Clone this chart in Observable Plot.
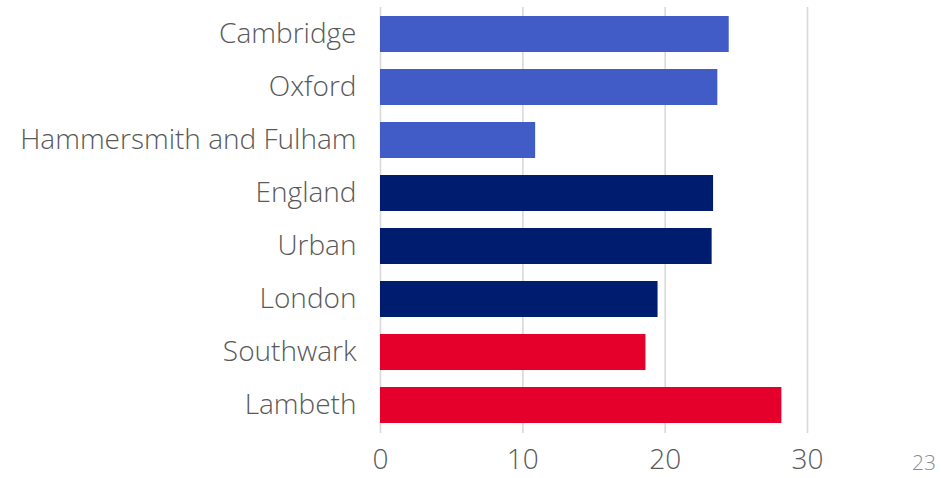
<!DOCTYPE html>
<html>
<head>
<meta charset="utf-8">
<script src="https://cdn.jsdelivr.net/npm/d3@7"></script>
<script src="https://cdn.jsdelivr.net/npm/@observablehq/plot@0.6"></script>
<style>
  html, body { margin: 0; padding: 0; background: #fff; overflow: hidden; }
  #wrap { position: relative; width: 941px; height: 478px; }
  #page { position: absolute; left: 912px; top: 448px; font-family: "Open Sans", sans-serif; font-weight: 300; font-size: 21px; color: #8c8c8c; }
</style>
</head>
<body>
<div id="wrap">
  <div id="chart"></div>
  <div id="page">23</div>
</div>
<script>
const categories = ["Cambridge", "Oxford", "Hammersmith and Fulham", "England", "Urban", "London", "Southwark", "Lambeth"];
const values = [24.5, 23.7, 10.9, 23.4, 23.3, 19.5, 18.65, 28.2];
const groups = ["comparator", "comparator", "comparator", "benchmark", "benchmark", "benchmark", "local", "local"];
const groupNames = ["comparator", "benchmark", "local"];
const groupColors = ["#425CC7", "#001C6E", "#E4002B"];
const xTicks = [0, 10, 20, 30];

const data = categories.map((c, i) => ({ category: c, value: values[i], group: groups[i] }));

const chart = Plot.plot({
  width: 941,
  height: 478,
  marginLeft: 380,
  marginRight: 134,
  marginTop: 7,
  marginBottom: 45,
  style: { fontFamily: "'Open Sans', sans-serif", fontSize: "28px", fontWeight: 300, color: "#595959", background: "#fff" },
  x: { domain: [0, 30], ticks: xTicks, label: null },
  y: { domain: categories, paddingInner: 0.32, paddingOuter: 0.17, label: null },
  color: { domain: groupNames, range: groupColors },
  marks: [
    Plot.ruleX(xTicks, { stroke: "#d9d9d9", strokeWidth: 1.6 }),
    Plot.barX(data, { y: "category", x: "value", fill: "group" }),
    Plot.axisX({ ticks: xTicks, tickSize: 0, tickPadding: 16, label: null, fill: "#595959" }),
    Plot.axisY({ tickSize: 0, tickPadding: 24, label: null, fill: "#595959" })
  ]
});
document.getElementById("chart").appendChild(chart);
</script>
</body>
</html>
